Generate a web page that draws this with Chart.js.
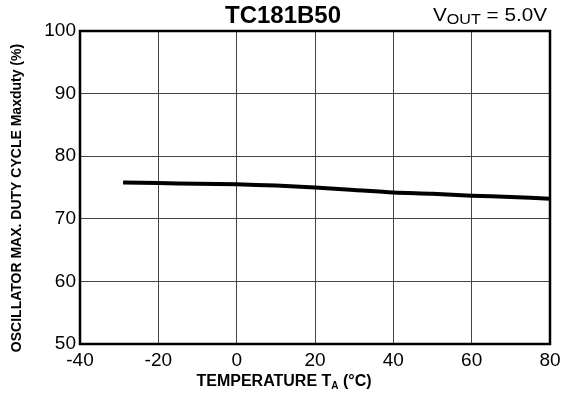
<!DOCTYPE html>
<html>
<head>
<meta charset="utf-8">
<script src="https://cdn.jsdelivr.net/npm/chart.js@4/dist/chart.umd.min.js"></script>
<style>
  html, body { margin: 0; padding: 0; background: #fff; }
  #wrap { width: 574px; height: 393px; }
</style>
</head>
<body>
<div id="wrap"><canvas id="c" width="574" height="393"></canvas></div>
<script>
// Ambient temperature (°C) and oscillator max duty cycle (%)
const temperatures = [-29, -20, -10, 0, 10, 20, 30, 40, 50, 60, 70, 80];
const maxDuty      = [75.8, 75.7, 75.6, 75.5, 75.3, 75.0, 74.6, 74.2, 74.0, 73.7, 73.5, 73.2];

const xTicks = { min: -40, max: 80, step: 20 };
const yTicks = { min: 50, max: 100, step: 10 };

const chartTitle = 'TC181B50';
const FONT = '"Liberation Sans", Arial, Helvetica, sans-serif';

// Frame, title, condition note and axis titles (with subscripts)
const decorations = {
  id: 'decorations',
  afterDraw(chart) {
    const { ctx, chartArea: a } = chart;
    ctx.save();
    ctx.strokeStyle = '#000';
    ctx.lineWidth = 2.5;
    ctx.strokeRect(a.left, a.top, a.right - a.left, a.bottom - a.top);

    ctx.fillStyle = '#000';
    ctx.textBaseline = 'alphabetic';

    // Title
    ctx.font = 'bold 24px ' + FONT;
    ctx.textAlign = 'center';
    ctx.fillText(chartTitle, 283, 23);

    // V_OUT = 5.0V (slightly widened lettering)
    ctx.save();
    ctx.translate(433, 0);
    ctx.scale(1.15, 1);
    ctx.textAlign = 'left';
    let x = 0;
    ctx.font = '18px ' + FONT;
    ctx.fillText('V', x, 21);
    x += ctx.measureText('V').width;
    ctx.font = '14px ' + FONT;
    ctx.fillText('OUT', x, 24);
    x += ctx.measureText('OUT').width;
    ctx.font = '18px ' + FONT;
    ctx.fillText(' = 5.0V', x, 21);
    ctx.restore();

    // X axis title
    ctx.textAlign = 'left';
    const p1 = 'TEMPERATURE T', sub = 'A', p2 = ' (°C)';
    ctx.font = 'bold 16px ' + FONT;
    const w1 = ctx.measureText(p1).width, w3 = ctx.measureText(p2).width;
    ctx.font = 'bold 10px ' + FONT;
    const w2 = ctx.measureText(sub).width;
    x = 284 - (w1 + w2 + w3) / 2;
    ctx.font = 'bold 16px ' + FONT;
    ctx.fillText(p1, x, 386);
    ctx.font = 'bold 10px ' + FONT;
    ctx.fillText(sub, x + w1, 389);
    ctx.font = 'bold 16px ' + FONT;
    ctx.fillText(p2, x + w1 + w2, 386);

    // Y axis title
    ctx.translate(21, 198);
    ctx.rotate(-Math.PI / 2);
    ctx.textAlign = 'center';
    ctx.font = 'bold 14px ' + FONT;
    ctx.fillText('OSCILLATOR MAX. DUTY CYCLE Maxduty (%)', 0, 0);
    ctx.restore();
  }
};

new Chart(document.getElementById('c'), {
  type: 'line',
  data: {
    datasets: [{
      data: temperatures.map((t, i) => ({ x: t, y: maxDuty[i] })),
      borderColor: '#000',
      borderWidth: 4,
      pointRadius: 0,
      tension: 0.3,
      fill: false
    }]
  },
  options: {
    responsive: false,
    animation: false,
    layout: { padding: { left: 0, right: 24, top: 31, bottom: 0 } },
    plugins: { legend: { display: false }, tooltip: { enabled: false } },
    scales: {
      x: {
        type: 'linear',
        min: xTicks.min, max: xTicks.max,
        ticks: { stepSize: xTicks.step, color: '#000', font: { family: FONT, size: 19 }, padding: 5, maxRotation: 0 },
        grid: { color: '#444', lineWidth: 1, drawTicks: false },
        border: { display: false },
        afterFit(scale) { scale.height = 49; }
      },
      y: {
        min: yTicks.min, max: yTicks.max,
        ticks: { stepSize: yTicks.step, color: '#000', font: { family: FONT, size: 19 }, padding: 4 },
        grid: { color: '#444', lineWidth: 1, drawTicks: false },
        border: { display: false },
        afterFit(scale) { scale.width = 80; }
      }
    }
  },
  plugins: [decorations]
});
</script>
</body>
</html>
